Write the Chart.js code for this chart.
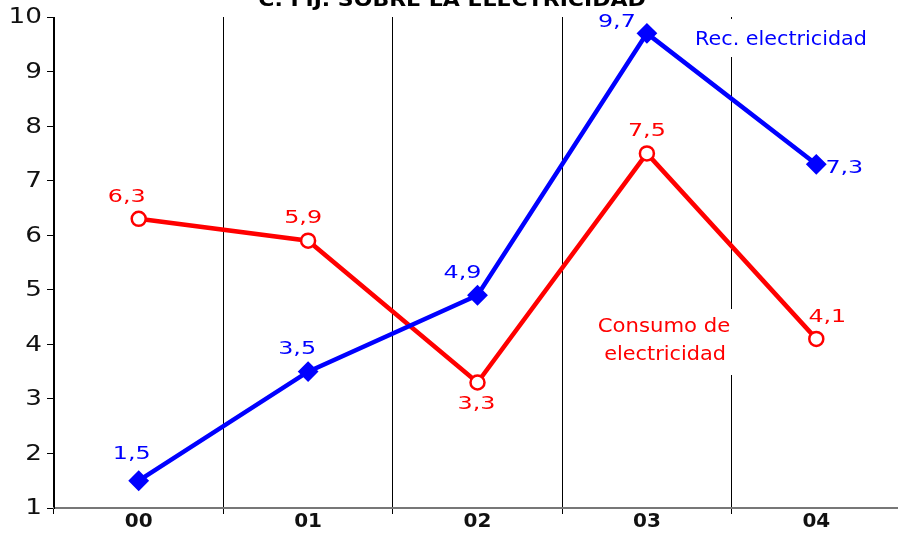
<!DOCTYPE html>
<html>
<head>
<meta charset="utf-8">
<script src="https://cdn.jsdelivr.net/npm/chart.js@4/dist/chart.umd.min.js"></script>
<style>
html,body{margin:0;padding:0;background:#fff;overflow:hidden;}
#wrap{width:898px;height:549px;overflow:hidden;}
canvas{display:block;}
</style>
</head>
<body>
<div id="wrap"><canvas id="c" width="901" height="549"></canvas></div>
<script>
const title = "C. FIJ. SOBRE LA ELECTRICIDAD";
const categories = ["00", "01", "02", "03", "04"];
const recName = "Rec. electricidad";
const recValues = [1.5, 3.5, 4.9, 9.7, 7.3];
const conName = ["Consumo de", "electricidad"];
const conValues = [6.3, 5.9, 3.3, 7.5, 4.1];
const yMin = 1, yMax = 10, yStep = 1;

// label offsets relative to each point (styling)
const recLabelOffsets = [[-7,-26],[-11,-22],[-15,-22],[-30,-11],[28,4]];
const conLabelOffsets = [[-12,-21],[-5,-22],[-1,22],[0,-22],[11,-21]];

const BLUE = "#0000FF", RED = "#FF0000";
const FONT = "'DejaVu Sans', Verdana, sans-serif";

function fmt(v){ return v.toFixed(1).replace('.', ','); }

function stretched(ctx, text, x, y, sx, align){
  ctx.save();
  ctx.translate(x, y);
  ctx.scale(sx, 1);
  ctx.textAlign = align;
  ctx.fillText(text, 0, 0);
  ctx.restore();
}

const annot = {
  id: 'annot',
  beforeDatasetsDraw(chart){
    const ctx = chart.ctx;
    ctx.save();
    // title (clipped at top)
    ctx.fillStyle = '#000';
    ctx.font = "bold 20px " + FONT;
    ctx.textBaseline = 'alphabetic';
    stretched(ctx, title, 452, 6, 1.1, 'center');
    // y tick labels
    const ys = chart.scales.y;
    ctx.font = "21px " + FONT;
    ctx.textBaseline = 'middle';
    ctx.fillStyle = '#111';
    ys.ticks.forEach(t => {
      stretched(ctx, String(t.value), 42, ys.getPixelForValue(t.value) + 1, 1.25, 'right');
    });
    // white boxes behind series labels
    ctx.fillStyle = '#fff';
    ctx.fillRect(690, 19, 182, 38);
    ctx.fillRect(592, 309, 146, 66);
    // series labels
    ctx.font = "20px " + FONT;
    ctx.textBaseline = 'middle';
    ctx.fillStyle = BLUE;
    stretched(ctx, recName, 781, 40, 1.035, 'center');
    ctx.fillStyle = RED;
    stretched(ctx, conName[0], 664, 327, 1.06, 'center');
    stretched(ctx, conName[1], 665, 355, 1.04, 'center');
    ctx.restore();
  },
  afterDatasetsDraw(chart){
    const ctx = chart.ctx;
    ctx.save();
    ctx.font = "17px " + FONT;
    ctx.textBaseline = 'middle';
    const sets = [[0, recValues, recLabelOffsets, BLUE],[1, conValues, conLabelOffsets, RED]];
    sets.forEach(([di, vals, offs, col])=>{
      const meta = chart.getDatasetMeta(di);
      ctx.fillStyle = col;
      meta.data.forEach((pt, i)=>{
        stretched(ctx, fmt(vals[i]), pt.x + offs[i][0], pt.y + offs[i][1], 1.4, 'center');
      });
    });
    ctx.restore();
  }
};

new Chart(document.getElementById('c'), {
  type: 'line',
  data: {
    labels: categories,
    datasets: [
      {
        label: recName,
        data: recValues,
        borderColor: BLUE,
        backgroundColor: BLUE,
        borderWidth: 4.5,
        pointStyle: 'rectRot',
        pointRadius: 9,
        pointBorderWidth: 2,
        pointBackgroundColor: BLUE,
        pointBorderColor: BLUE,
        tension: 0
      },
      {
        label: conName.join(' '),
        data: conValues,
        borderColor: RED,
        backgroundColor: '#fff',
        borderWidth: 4.5,
        pointStyle: 'circle',
        pointRadius: 7,
        pointBorderWidth: 2.5,
        pointBackgroundColor: '#fff',
        pointBorderColor: RED,
        tension: 0
      }
    ]
  },
  options: {
    responsive: false,
    animation: false,
    devicePixelRatio: 1,
    layout: { autoPadding: false, padding: { top: 17, right: 0, left: 0, bottom: 0 } },
    plugins: { legend: { display: false }, tooltip: { enabled: false }, title: { display: false } },
    scales: {
      x: {
        offset: true,
        grid: { offset: true, color: '#000', lineWidth: 1, tickLength: 6, drawOnChartArea: true },
        border: { display: true, color: '#777', width: 2 },
        ticks: { color: '#111', font: { family: FONT, size: 20, weight: 'bold' }, padding: -4, maxRotation: 0 },
        afterFit(s){ s.height = 41; s.paddingLeft = 0; s.paddingRight = 0; }
      },
      y: {
        min: yMin, max: yMax,
        grid: { drawOnChartArea: false, drawTicks: true, tickLength: 7, color: '#000' },
        border: { display: true, color: '#000', width: 1 },
        ticks: { display: false, stepSize: yStep },
        afterFit(s){ s.width = 54; s.paddingTop = 0; s.paddingBottom = 0; }
      }
    }
  },
  plugins: [annot]
});
</script>
</body>
</html>
